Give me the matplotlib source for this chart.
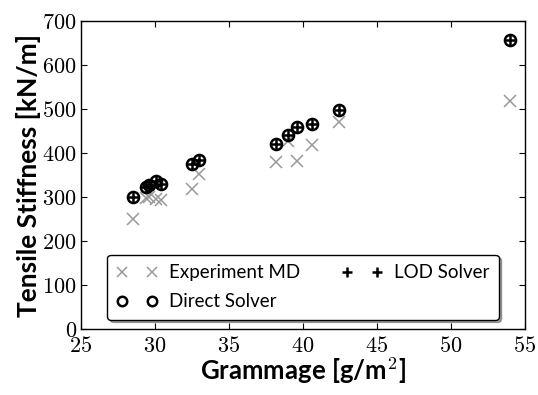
import numpy as np
import matplotlib
matplotlib.use("Agg")
import matplotlib.pyplot as plt

# ------------------------------------------------------------
# Data
# ------------------------------------------------------------

grammage = [28.5, 29.4, 29.6, 30.1, 30.4, 32.5, 33.0, 38.2, 39.0, 39.6, 40.6, 42.4, 54.0]
md_exp = [250, 298, 300, 295, 293, 318, 352, 380, 428, 382, 420, 472, 518]
direct_solver = [300, 323, 328, 337, 330, 376, 384, 422, 441, 460, 466, 498, 657]
lod_solver = [300, 323, 328, 337, 330, 376, 384, 422, 441, 460, 466, 498, 657]

xticks = [25, 30, 35, 40, 45, 50, 55]
yticks = [0, 100, 200, 300, 400, 500, 600, 700]

plt.rcParams['mathtext.fontset'] = 'cm'

fig = plt.figure(figsize=(5.38, 3.95), dpi=100)
ax = fig.add_axes([0.1506, 0.167, 0.8252, 0.7786])

ax.plot(grammage, md_exp, 'x', color='#999999', ms=9, mew=1.1,
        label='Experiment MD')
ax.plot(grammage, direct_solver, 'o', mfc='none', mec='black', ms=8, mew=1.8,
        label='Direct Solver')
ax.plot(grammage, lod_solver, '+', color='black', ms=8, mew=1.8,
        label='LOD Solver')

ax.set_xlim(25, 55)
ax.set_ylim(0, 700)
ax.set_xticks(xticks)
ax.set_yticks(yticks)
ax.set_xticklabels([f'${v}$' for v in xticks], fontsize=16)
ax.set_yticklabels([f'${v}$' for v in yticks], fontsize=16)
ax.tick_params(direction='in', top=True, right=True, length=4, width=0.8)
ax.tick_params(axis='x', pad=5)
ax.tick_params(axis='y', pad=3)
for s in ax.spines.values():
    s.set_linewidth(1.0)

ax.set_xlabel('Grammage [g/m$^\\mathbf{2}$]', fontsize=18.5, fontweight='bold',
              family='Lato', labelpad=0)
ax.set_ylabel('Tensile Stiffness [kN/m]', fontsize=19, fontweight='bold',
              family='Lato', labelpad=1)

leg = ax.legend(loc='lower center', ncol=2, numpoints=2, fancybox=True,
                shadow=True, prop={'family': 'Lato', 'size': 13.5},
                columnspacing=2.2, handlelength=2.2, handletextpad=0.6,
                borderpad=0.5, labelspacing=0.65, framealpha=1,
                markerscale=0.85)
leg.get_frame().set_edgecolor('black')

fig.savefig('out.png', dpi=100)
